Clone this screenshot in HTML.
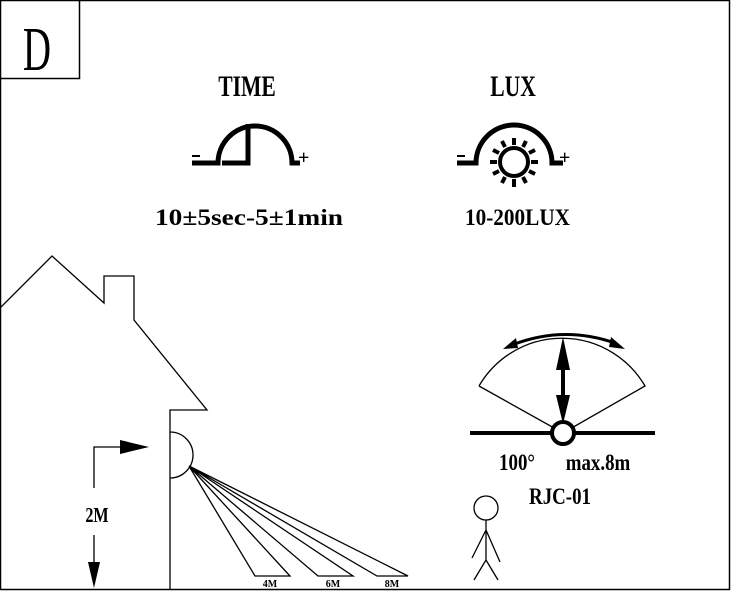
<!DOCTYPE html>
<html><head><style>body{margin:0;background:#fff}svg{display:block}text{font-family:"Liberation Serif",serif;font-weight:bold;fill:#000}</style></head><body>
<svg width="731" height="591" viewBox="0 0 731 591" xmlns="http://www.w3.org/2000/svg">
<rect x="0.5" y="0.5" width="729" height="589" fill="none" stroke="#000" stroke-width="1.5"/>
<path d="M0.5 78.5H79.5V0.5" fill="none" stroke="#000" stroke-width="1.5"/>
<text x="0" y="0" font-size="52" text-anchor="middle" style="font-weight:normal" transform="translate(37,70) scale(0.75,1.2)">D</text>
<text x="0" y="0" font-size="27" text-anchor="middle" transform="translate(247,96) scale(0.8,1.1)">TIME</text>
<text x="0" y="0" font-size="27" text-anchor="middle" transform="translate(513,96) scale(0.8,1.1)">LUX</text>
<g fill="none" stroke="#000" stroke-width="5">
<path d="M192 163H218A37 37 0 0 1 292 163H300"/>
<path d="M222 163H248V124"/>
<path d="M457 163H476A38 38 0 0 1 552 163H563"/>
<circle cx="514" cy="162" r="14" stroke-width="4"/>
</g>
<g stroke="#000" stroke-width="4">
<line x1="514" y1="138" x2="514" y2="145"/><line x1="514" y1="179" x2="514" y2="187"/>
<line x1="490" y1="162" x2="497" y2="162"/><line x1="531" y1="162" x2="538" y2="162"/>
<line x1="502" y1="141" x2="505" y2="147"/><line x1="526" y1="141" x2="523" y2="147"/>
<line x1="502" y1="183" x2="505" y2="177"/><line x1="526" y1="183" x2="523" y2="177"/>
<line x1="493" y1="150" x2="499" y2="153"/><line x1="535" y1="150" x2="529" y2="153"/>
<line x1="493" y1="174" x2="499" y2="171"/><line x1="535" y1="174" x2="529" y2="171"/>
</g>
<text x="298" y="164" font-size="20">+</text>
<text x="559" y="164" font-size="20">+</text>
<line x1="192" y1="156" x2="200" y2="156" stroke="#000" stroke-width="2"/>
<line x1="457" y1="156" x2="465" y2="156" stroke="#000" stroke-width="2"/>
<text x="155" y="0" font-size="22" textLength="188" lengthAdjust="spacingAndGlyphs" transform="translate(0,225) scale(1,1.05)">10±5sec-5±1min</text>
<text x="465" y="0" font-size="22" textLength="105" lengthAdjust="spacingAndGlyphs" transform="translate(0,225) scale(1,1.05)">10-200LUX</text>
<g fill="none" stroke="#000" stroke-width="1.3">
<path d="M0 308L52 256L104 303V276H134V320L207 410H170V589"/>
<path d="M170 432A23 23 0 0 1 170 478"/>
<path d="M189 466L255 576H290ZM189 466L318 576H353ZM189 466L377 576H408Z"/>
<path d="M94 488V447H122"/>
<line x1="94" y1="535" x2="94" y2="565"/>
<path d="M479 386L563 433L645 386A96 96 0 0 0 479 386"/>
<circle cx="486" cy="508" r="12"/>
<path d="M486 520V560L474 580M486 560L498 580M486 530L472 558M486 530L500 562"/>
</g>
<polygon points="120,440 149,447 120,454" fill="#000"/>
<polygon points="88,562 100,562 94,588" fill="#000"/>
<text x="0" y="0" font-size="19" text-anchor="middle" transform="translate(97,522) scale(0.85,1.1)">2M</text>
<text x="270" y="587" font-size="10" text-anchor="middle">4M</text>
<text x="333" y="587" font-size="10" text-anchor="middle">6M</text>
<text x="392" y="587" font-size="10" text-anchor="middle">8M</text>
<line x1="470" y1="433" x2="655" y2="433" stroke="#000" stroke-width="4"/>
<circle cx="563" cy="433" r="11" fill="#fff" stroke="#000" stroke-width="4"/>
<line x1="563" y1="355" x2="563" y2="408" stroke="#000" stroke-width="4"/>
<polygon points="556,370 570,370 563,337" fill="#000"/>
<polygon points="556,395 570,395 563,424" fill="#000"/>
<path d="M512 345Q563 325 615 343" fill="none" stroke="#000" stroke-width="3"/>
<polygon points="503,349 516,338 518,348" fill="#000"/>
<polygon points="625,349 611,337 609,347" fill="#000"/>
<text x="0" y="0" font-size="21" text-anchor="middle" transform="translate(517,470) scale(0.9,1.1)">100°</text>
<text x="0" y="0" font-size="21" text-anchor="middle" transform="translate(598,470) scale(0.9,1.1)">max.8m</text>
<text x="0" y="0" font-size="21" text-anchor="middle" transform="translate(560,504) scale(0.9,1.1)">RJC-01</text>
</svg>
</body></html>
